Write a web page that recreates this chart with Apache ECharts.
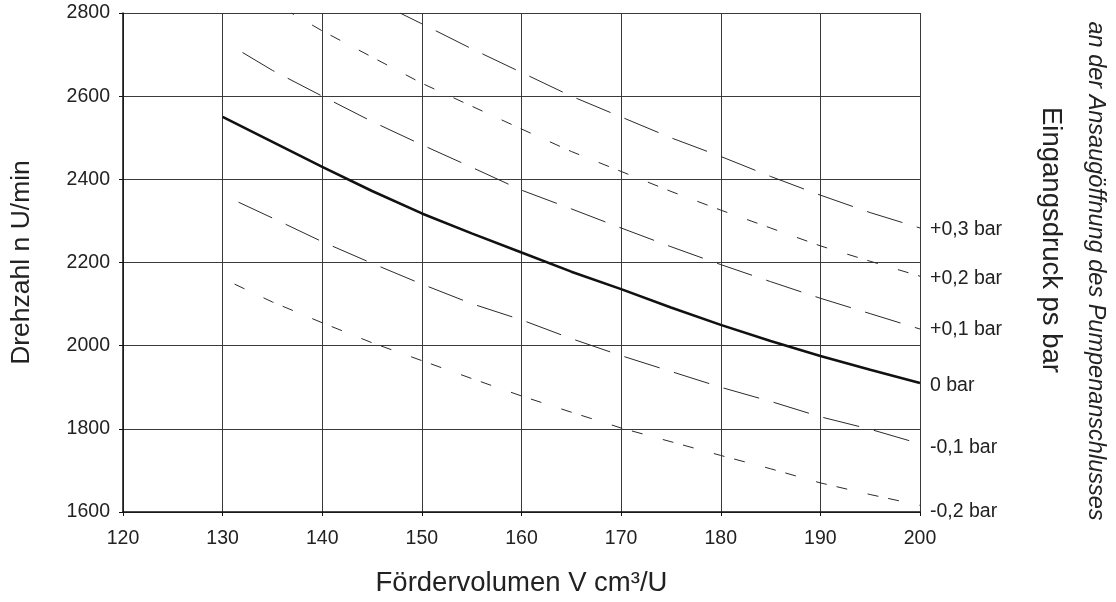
<!DOCTYPE html>
<html>
<head>
<meta charset="utf-8">
<script src="https://cdn.jsdelivr.net/npm/echarts@6/dist/echarts.min.js"></script>
<style>
  html, body { margin: 0; padding: 0; background: #fff; }
  #chart { width: 1116px; height: 602px; }
</style>
</head>
<body>
<div id="chart"></div>
<script>
// ---- data ----
const seriesNames = ['+0,3 bar', '+0,2 bar', '+0,1 bar', '0 bar', '-0,1 bar', '-0,2 bar'];

const plus03 = [[147.8,2800],[150,2774],[155,2714],[160,2657],[165,2600],[170,2550],[175,2500],[180,2455],[185,2407],[190,2362],[195,2320],[200,2283]];
const plus02 = [[136.9,2800],[140,2757],[145,2694],[150,2631],[155,2576],[160,2521],[165,2467],[170,2419],[175,2371],[180,2326],[185,2283],[190,2240],[195,2203],[200,2167]];
const plus01 = [[132,2705],[135,2662],[140,2600],[145,2539],[150,2483],[155,2429],[160,2374],[165,2329],[170,2283],[175,2238],[180,2195],[185,2154],[190,2114],[195,2077],[200,2040]];
const zero00 = [[130,2550],[135,2490],[137.5,2460],[140,2430],[145,2372],[150,2318],[155,2270],[160,2224],[165,2178],[170,2136],[175,2092],[180,2050],[185,2011],[190,1975],[195,1942],[200,1910]];
const minus01 = [[131.6,2345],[135,2307],[140,2250],[145,2198],[150,2148],[155,2101],[160,2062],[165,2017],[170,1976],[175,1938],[180,1900],[185,1866],[190,1829],[195,1799],[200,1764]];
const minus02 = [[131.2,2148],[135,2105],[140,2055],[145,2007],[150,1964],[155,1921],[160,1879],[165,1840],[170,1802],[175,1769],[180,1736],[185,1704],[190,1670],[195,1642],[200,1616]];

const xMin = 120, xMax = 200, xStep = 10;
const yMin = 1600, yMax = 2800, yStep = 200;

const xTitle = 'Fördervolumen V cm³/U';
const yTitle = 'Drehzahl n U/min';
const rightTitle = 'Eingangsdruck ps bar';
const rightSubTitle = 'an der Ansaugöffnung des Pumpenanschlusses';

// ---- chart ----
const FONT = '"Liberation Sans", Arial, Helvetica, sans-serif';
const TXT = '#222';
const longDash = [37, 15];
const shortDash = [11, 10, 11, 21];

function lineSeries(name, data, width, type, offset, labelDy) {
  return {
    type: 'line',
    name: name,
    data: data,
    showSymbol: false,
    symbol: 'none',
    smooth: false,
    clip: true,
    silent: true,
    lineStyle: { color: width > 1.5 ? '#111' : '#2a2a2a', width: width, type: type, dashOffset: offset || 0, cap: 'butt' },
    endLabel: {
      show: true,
      formatter: name,
      distance: 10,
      offset: [0, labelDy],
      fontFamily: FONT,
      fontSize: 19.5,
      color: TXT
    },
    emphasis: { disabled: true }
  };
}

const chart = echarts.init(document.getElementById('chart'), null, { renderer: 'canvas' });
chart.setOption({
  animation: false,
  backgroundColor: '#fff',
  grid: { left: 121, right: 196, top: 13, bottom: 86, containLabel: false },
  xAxis: {
    type: 'value',
    min: xMin, max: xMax, interval: xStep,
    name: xTitle,
    nameLocation: 'middle',
    nameGap: 57,
    nameTextStyle: { fontFamily: FONT, fontSize: 27.5, color: TXT },
    axisLine: { show: true, lineStyle: { color: '#111', width: 1.5 } },
    axisTick: { show: true, length: 4, lineStyle: { color: '#111', width: 1 } },
    axisLabel: { fontFamily: FONT, fontSize: 19.5, color: TXT, margin: 17, formatter: function (v) { return String(v); } },
    splitLine: { show: true, lineStyle: { color: '#3a3a3a', width: 1 } }
  },
  yAxis: {
    type: 'value',
    min: yMin, max: yMax, interval: yStep,
    name: yTitle,
    nameLocation: 'middle',
    nameGap: 88,
    nameTextStyle: { fontFamily: FONT, fontSize: 26.5, color: TXT },
    axisLine: { show: true, lineStyle: { color: '#111', width: 1.5 } },
    axisTick: { show: true, length: 4, lineStyle: { color: '#111', width: 1 } },
    axisLabel: { fontFamily: FONT, fontSize: 19.5, color: TXT, margin: 13, formatter: function (v) { return String(v); } },
    splitLine: { show: true, lineStyle: { color: '#3a3a3a', width: 1 } }
  },
  graphic: [
    {
      type: 'text',
      x: 1051, y: 240,
      rotation: -Math.PI / 2,
      style: { text: rightTitle, font: '27.5px ' + FONT, fill: TXT, textAlign: 'center', textVerticalAlign: 'middle' }
    },
    {
      type: 'text',
      x: 1096, y: 271,
      rotation: -Math.PI / 2,
      style: { text: rightSubTitle, font: 'italic 23.5px ' + FONT, fill: TXT, textAlign: 'center', textVerticalAlign: 'middle' }
    }
  ],
  series: [
    lineSeries(seriesNames[0], plus03, 1, longDash, 12, 2),
    lineSeries(seriesNames[1], plus02, 1, shortDash, 29, 2),
    lineSeries(seriesNames[2], plus01, 1, longDash, 0, 1),
    lineSeries(seriesNames[3], zero00, 2.6, 'solid', 0, 3),
    lineSeries(seriesNames[4], minus01, 1, longDash, 0, 4),
    lineSeries(seriesNames[5], minus02, 1, shortDash, 21, 6)
  ]
});
</script>
</body>
</html>
